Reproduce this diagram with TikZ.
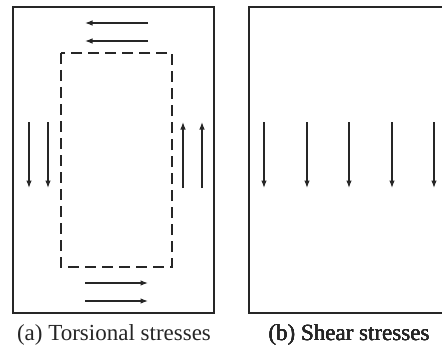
\documentclass[tikz,border=0pt]{standalone}
\usepackage{fontspec}
\setmainfont{Liberation Serif}
\usetikzlibrary{arrows.meta}
\tikzset{
  panelbox/.style={draw=black!85, line width=1.5pt},
  stressarrow/.style={draw=black!85, line width=1.2pt, -{Latex[length=7.5pt,width=5.5pt]}},
  sectionline/.style={draw=black!85, line width=1.4pt, dash pattern=on 11pt off 6pt},
  caption/.style={font=\fontsize{23}{25}\selectfont, text=black!85}
}
% one arrow from (x1,y1) to (x2,y2), pixel units
\newcommand{\stressarrow}[4]{\draw[stressarrow] (#1,#2) -- (#3,#4);}

\begin{document}
\begin{tikzpicture}[x=1pt, y=-1pt]
  \clip (0,0) rectangle (442,353);
  \fill[white] (0,0) rectangle (442,353);
  % (a) torsion
  \draw[panelbox] (13,7) rectangle (214,313);
  \draw[sectionline] (61,53) rectangle (172,267);
  \stressarrow{148}{23}{85}{23}
  \stressarrow{148}{41}{85}{41}
  \stressarrow{85}{283}{148}{283}
  \stressarrow{85}{301}{148}{301}
  \stressarrow{29}{122}{29}{188}
  \stressarrow{48}{122}{48}{188}
  \stressarrow{183}{188}{183}{122}
  \stressarrow{202}{188}{202}{122}
  \node[caption] (capa) at (114,335) {(a) Torsional stresses};
  % (b) shear
  \draw[panelbox] (249,7) rectangle (460,313);
  \foreach \xs in {264,307,349,392,434}
    \stressarrow{\xs}{122}{\xs}{188}
  \node[caption] (capb) at (349,335) {(b) Shear stresses};
\end{tikzpicture}
\end{document}
